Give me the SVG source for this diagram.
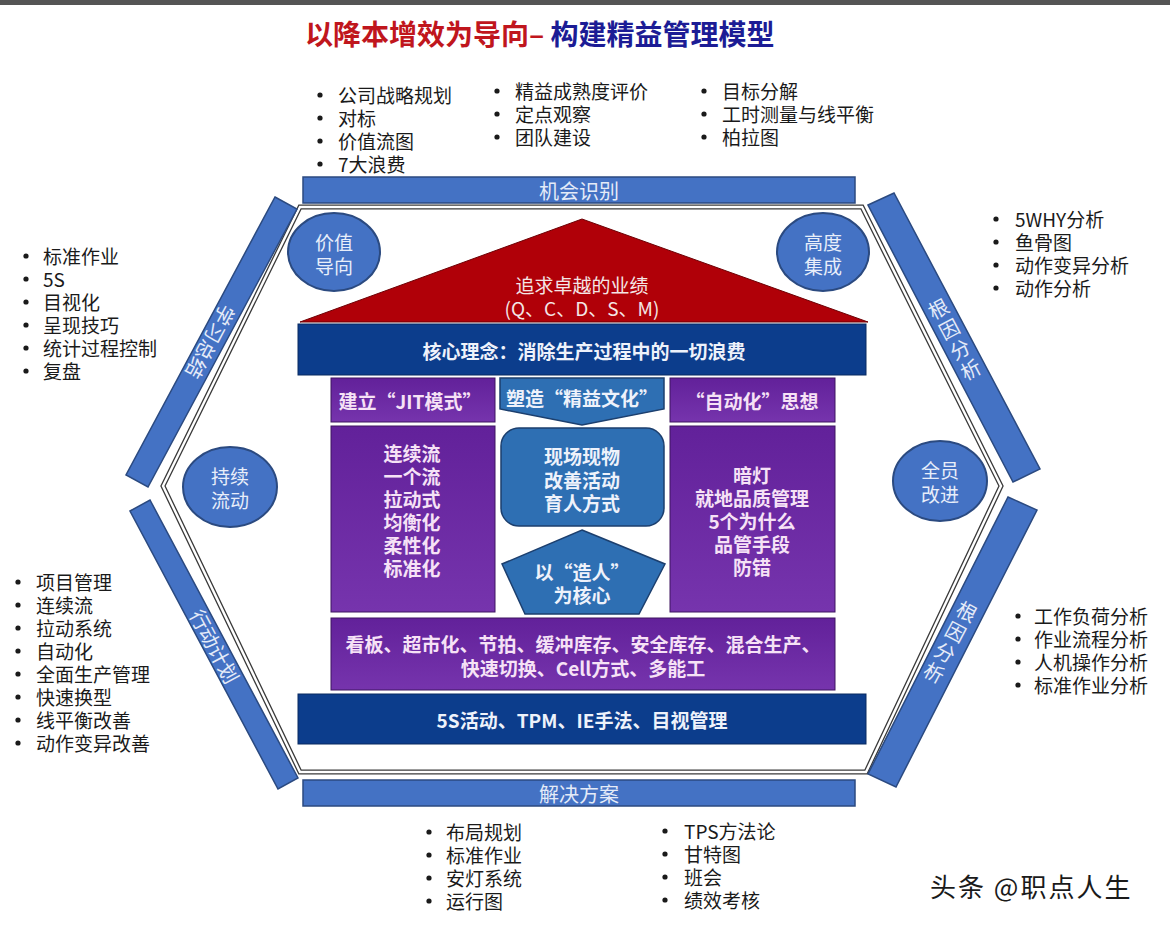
<svg xmlns="http://www.w3.org/2000/svg" width="1170" height="928" viewBox="0 0 1170 928">
<defs>
<style>
text{font-family:"Noto Sans CJK SC","Liberation Sans",sans-serif;}
.b{font-size:19px;fill:#1a1a1a;dominant-baseline:central;}
.dot{fill:#1a1a1a;}
.bar{fill:#4472c4;stroke:#2b4a80;stroke-width:1.5;}
.bt{font-size:20px;fill:#e4ebf8;text-anchor:middle;dominant-baseline:central;}
.circ{fill:#4472c4;stroke:#2b4a80;stroke-width:2;}
.ct{font-size:19px;fill:#e8eefa;text-anchor:middle;dominant-baseline:central;}
.pur{fill:url(#pg);stroke:#3e1460;stroke-width:1;}
.pt{font-size:19px;font-weight:bold;fill:#f6e2f6;text-anchor:middle;dominant-baseline:central;}
.navy{fill:#0c3d8c;stroke:#082a60;stroke-width:1;}
.nt{font-size:19px;font-weight:bold;fill:#eef2fb;text-anchor:middle;dominant-baseline:central;}
.steel{fill:#2e6fb3;stroke:#1c3f6e;stroke-width:1.5;}
</style>
<linearGradient id="pg" x1="0" y1="0" x2="0" y2="1">
<stop offset="0" stop-color="#62219a"/>
<stop offset="1" stop-color="#7634ad"/>
</linearGradient>
</defs>
<rect width="1170" height="928" fill="#ffffff"/>
<rect width="1170" height="5" fill="#555555"/>
<g id="title">
<text x="305" y="33" font-size="28" font-weight="bold" dominant-baseline="central"><tspan fill="#c0161d">以降本增效为导向–</tspan><tspan fill="#1c1c95"> 构建精益管理模型</tspan></text>
</g>
<g id="hexagon">
<path d="M300,207 L862,207 L1001,486 L866,772 L300,772 L163,486 Z" fill="none" stroke="#3a3a3a" stroke-width="5"/>
<path d="M300,207 L862,207 L1001,486 L866,772 L300,772 L163,486 Z" fill="none" stroke="#ffffff" stroke-width="2.4"/>
</g>
<g id="bar-top">
<rect class="bar" x="303" y="177" width="552" height="26"/>
<text class="bt" x="579" y="190">机会识别</text>
</g>
<g id="bar-bottom">
<rect class="bar" x="303" y="780" width="552" height="26"/>
<text class="bt" x="579" y="793">解决方案</text>
</g>
<g id="bar-upper-left">
<polygon class="bar" points="275,197 297,209 148,487 126,475"/>
<text class="bt" transform="translate(211,342) rotate(118)" x="0" y="0">学习总结</text>
</g>
<g id="bar-lower-left">
<polygon class="bar" points="130,511 150,500 298,778 278,789"/>
<text class="bt" transform="translate(215,646) rotate(62)" x="0" y="0">行动计划</text>
</g>
<g id="bar-upper-right">
<polygon class="bar" points="868,205 894,193 1040,469 1013,482"/>
<g transform="translate(954,338) rotate(-28)">
<text class="bt" x="0" y="-34">根</text><text class="bt" x="0" y="-11">因</text><text class="bt" x="0" y="12">分</text><text class="bt" x="0" y="35">析</text>
</g>
</g>
<g id="bar-lower-right">
<polygon class="bar" points="1008,497 1037,510 896,787 868,774"/>
<g transform="translate(951,641) rotate(28)">
<text class="bt" x="0" y="-34">根</text><text class="bt" x="0" y="-11">因</text><text class="bt" x="0" y="12">分</text><text class="bt" x="0" y="35">析</text>
</g>
</g>
<g id="circle-value">
<ellipse class="circ" cx="334" cy="252" rx="46" ry="39"/>
<text class="ct" x="334" y="241">价值</text><text class="ct" x="334" y="265">导向</text>
</g>
<g id="circle-integration">
<ellipse class="circ" cx="823" cy="252" rx="46" ry="39"/>
<text class="ct" x="823" y="241">高度</text><text class="ct" x="823" y="265">集成</text>
</g>
<g id="circle-flow">
<ellipse class="circ" cx="230" cy="487" rx="47" ry="40"/>
<text class="ct" x="230" y="475">持续</text><text class="ct" x="230" y="499">流动</text>
</g>
<g id="circle-all">
<ellipse class="circ" cx="940" cy="481" rx="47" ry="40"/>
<text class="ct" x="940" y="469">全员</text><text class="ct" x="940" y="493">改进</text>
</g>
<g id="roof">
<polygon points="582,219 868,322 300,322" fill="#b00008" stroke="#6d0005" stroke-width="1"/>
<text x="582" y="284" font-size="19" fill="#f4e6e6" text-anchor="middle" dominant-baseline="central">追求卓越的业绩</text>
<text x="582" y="307" font-size="19" fill="#f4e6e6" text-anchor="middle" dominant-baseline="central">(Q、C、D、S、M)</text>
</g>
<g id="core">
<rect class="navy" x="298" y="324" width="568" height="51"/>
<text class="nt" x="584" y="350">核心理念：消除生产过程中的一切浪费</text>
</g>
<g id="jit-head">
<rect class="pur" x="331" y="378" width="164" height="44"/>
<text class="pt" x="410" y="400">建立“JIT模式”</text>
</g>
<g id="culture-head">
<polygon class="steel" points="500,378 664,378 664,409 582,425 500,409"/>
<text class="nt" x="582" y="397">塑造“精益文化”</text>
</g>
<g id="auto-head">
<rect class="pur" x="670" y="378" width="165" height="44"/>
<text class="pt" x="752" y="400">“自动化”思想</text>
</g>
<g id="jit-body">
<rect class="pur" x="331" y="426" width="164" height="186"/>
<text class="pt" x="412" y="452">连续流</text>
<text class="pt" x="412" y="475">一个流</text>
<text class="pt" x="412" y="498">拉动式</text>
<text class="pt" x="412" y="521">均衡化</text>
<text class="pt" x="412" y="544">柔性化</text>
<text class="pt" x="412" y="567">标准化</text>
</g>
<g id="culture-body">
<rect class="steel" x="501" y="428" width="163" height="98" rx="18"/>
<text class="nt" x="582" y="455">现场现物</text>
<text class="nt" x="582" y="479">改善活动</text>
<text class="nt" x="582" y="502">育人方式</text>
</g>
<g id="people-core">
<polygon class="steel" points="582,530 665,564 639,614 525,614 502,564"/>
<text class="nt" x="582" y="571">以“造人”</text>
<text class="nt" x="582" y="594">为核心</text>
</g>
<g id="auto-body">
<rect class="pur" x="670" y="426" width="165" height="186"/>
<text class="pt" x="752" y="474">暗灯</text>
<text class="pt" x="752" y="497">就地品质管理</text>
<text class="pt" x="752" y="520">5个为什么</text>
<text class="pt" x="752" y="543">品管手段</text>
<text class="pt" x="752" y="566">防错</text>
</g>
<g id="tools">
<rect class="pur" x="331" y="618" width="504" height="72"/>
<text class="pt" x="583" y="643">看板、超市化、节拍、缓冲库存、安全库存、混合生产、</text>
<text class="pt" x="583" y="667">快速切换、Cell方式、多能工</text>
</g>
<g id="foundation">
<rect class="navy" x="298" y="694" width="568" height="50"/>
<text class="nt" x="582" y="719">5S活动、TPM、IE手法、目视管理</text>
</g>
<g id="list-top-1">
<circle class="dot" cx="320" cy="95" r="2.6"/><text class="b" x="338" y="94">公司战略规划</text>
<circle class="dot" cx="320" cy="118" r="2.6"/><text class="b" x="338" y="117">对标</text>
<circle class="dot" cx="320" cy="141" r="2.6"/><text class="b" x="338" y="140">价值流图</text>
<circle class="dot" cx="320" cy="164" r="2.6"/><text class="b" x="338" y="163">7大浪费</text>
</g>
<g id="list-top-2">
<circle class="dot" cx="497" cy="91" r="2.6"/><text class="b" x="515" y="90">精益成熟度评价</text>
<circle class="dot" cx="497" cy="114" r="2.6"/><text class="b" x="515" y="113">定点观察</text>
<circle class="dot" cx="497" cy="137" r="2.6"/><text class="b" x="515" y="136">团队建设</text>
</g>
<g id="list-top-3">
<circle class="dot" cx="704" cy="91" r="2.6"/><text class="b" x="722" y="90">目标分解</text>
<circle class="dot" cx="704" cy="114" r="2.6"/><text class="b" x="722" y="113">工时测量与线平衡</text>
<circle class="dot" cx="704" cy="137" r="2.6"/><text class="b" x="722" y="136">柏拉图</text>
</g>
<g id="list-left-1">
<circle class="dot" cx="26" cy="256" r="2.6"/><text class="b" x="43" y="255">标准作业</text>
<circle class="dot" cx="26" cy="279" r="2.6"/><text class="b" x="43" y="278">5S</text>
<circle class="dot" cx="26" cy="302" r="2.6"/><text class="b" x="43" y="301">目视化</text>
<circle class="dot" cx="26" cy="325" r="2.6"/><text class="b" x="43" y="324">呈现技巧</text>
<circle class="dot" cx="26" cy="348" r="2.6"/><text class="b" x="43" y="347">统计过程控制</text>
<circle class="dot" cx="26" cy="371" r="2.6"/><text class="b" x="43" y="370">复盘</text>
</g>
<g id="list-right-1">
<circle class="dot" cx="996" cy="219" r="2.6"/><text class="b" x="1015" y="218">5WHY分析</text>
<circle class="dot" cx="996" cy="242" r="2.6"/><text class="b" x="1015" y="241">鱼骨图</text>
<circle class="dot" cx="996" cy="265" r="2.6"/><text class="b" x="1015" y="264">动作变异分析</text>
<circle class="dot" cx="996" cy="288" r="2.6"/><text class="b" x="1015" y="287">动作分析</text>
</g>
<g id="list-left-2">
<circle class="dot" cx="18" cy="582" r="2.6"/><text class="b" x="36" y="581">项目管理</text>
<circle class="dot" cx="18" cy="605" r="2.6"/><text class="b" x="36" y="604">连续流</text>
<circle class="dot" cx="18" cy="628" r="2.6"/><text class="b" x="36" y="627">拉动系统</text>
<circle class="dot" cx="18" cy="651" r="2.6"/><text class="b" x="36" y="650">自动化</text>
<circle class="dot" cx="18" cy="674" r="2.6"/><text class="b" x="36" y="673">全面生产管理</text>
<circle class="dot" cx="18" cy="697" r="2.6"/><text class="b" x="36" y="696">快速换型</text>
<circle class="dot" cx="18" cy="720" r="2.6"/><text class="b" x="36" y="719">线平衡改善</text>
<circle class="dot" cx="18" cy="743" r="2.6"/><text class="b" x="36" y="742">动作变异改善</text>
</g>
<g id="list-right-2">
<circle class="dot" cx="1018" cy="616" r="2.6"/><text class="b" x="1034" y="615">工作负荷分析</text>
<circle class="dot" cx="1018" cy="639" r="2.6"/><text class="b" x="1034" y="638">作业流程分析</text>
<circle class="dot" cx="1018" cy="662" r="2.6"/><text class="b" x="1034" y="661">人机操作分析</text>
<circle class="dot" cx="1018" cy="685" r="2.6"/><text class="b" x="1034" y="684">标准作业分析</text>
</g>
<g id="list-bottom-1">
<circle class="dot" cx="429" cy="832" r="2.6"/><text class="b" x="446" y="831">布局规划</text>
<circle class="dot" cx="429" cy="855" r="2.6"/><text class="b" x="446" y="854">标准作业</text>
<circle class="dot" cx="429" cy="878" r="2.6"/><text class="b" x="446" y="877">安灯系统</text>
<circle class="dot" cx="429" cy="901" r="2.6"/><text class="b" x="446" y="900">运行图</text>
</g>
<g id="list-bottom-2">
<circle class="dot" cx="665" cy="831" r="2.6"/><text class="b" x="684" y="830">TPS方法论</text>
<circle class="dot" cx="665" cy="854" r="2.6"/><text class="b" x="684" y="853">甘特图</text>
<circle class="dot" cx="665" cy="877" r="2.6"/><text class="b" x="684" y="876">班会</text>
<circle class="dot" cx="665" cy="900" r="2.6"/><text class="b" x="684" y="899">绩效考核</text>
</g>
<g id="watermark">
<text x="930" y="885" font-size="26" letter-spacing="2" fill="#1a1a1a" dominant-baseline="central">头条 @职点人生</text>
</g>
</svg>
